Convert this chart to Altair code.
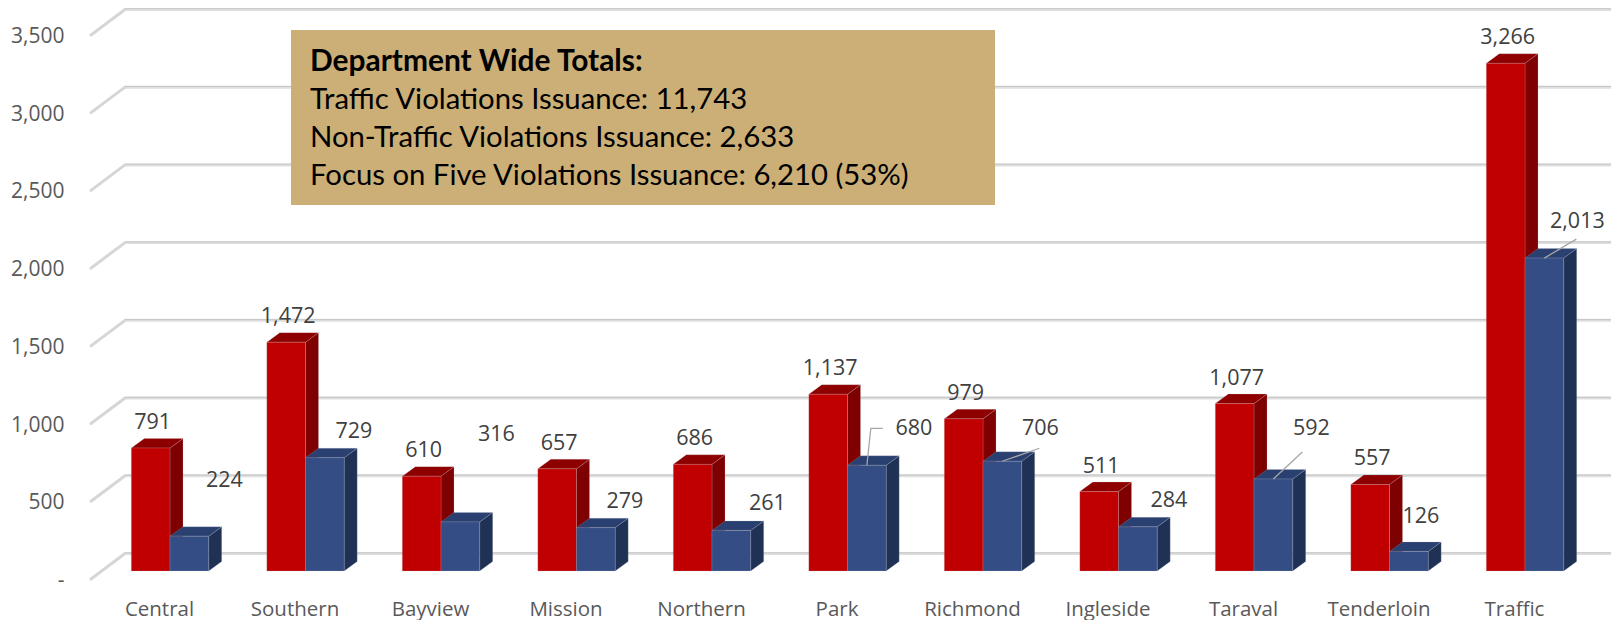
import altair as alt
import pandas as pd

categories = ["Central", "Southern", "Bayview", "Mission", "Northern", "Park",
              "Richmond", "Ingleside", "Taraval", "Tenderloin", "Traffic"]
traffic = [791, 1472, 610, 657, 686, 1137, 979, 511, 1077, 557, 3266]
focus = [224, 729, 316, 279, 261, 680, 706, 284, 592, 126, 2013]
ticks = [0, 500, 1000, 1500, 2000, 2500, 3000, 3500]
box_lines = ["Department Wide Totals:", "Traffic Violations Issuance: 11,743",
             "Non-Traffic Violations Issuance: 2,633",
             "Focus on Five Violations Issuance: 6,210 (53%)"]

# label nudges from the top-front centre of each blue bar, in pixels
focus_dx = [35, 29, 36, 29, 36, 47, 38, 31, 38, 12, 33]
focus_dy = [55, 26, 87, 26, 26, 36, 32, 26, 50, 34, 36]
# leader lines: category, start/mid/end nudges in px from the bar's top-front centre
leaders = {5: [(0, 0), (4, 37), (16, 37)], 6: [(0, 0), (37, 13)],
           8: [(0, 0), (29, 27)], 10: [(0, 0), (32, 19)]}

PX_X = 135.5      # px per category
PX_Y = 0.15545    # px per unit
X0 = 170.0        # page x of first category's red/blue boundary
Y0 = 553.5        # page y of value 0 on the back wall
BAR = 38.7 / PX_X
DX = 13 / PX_X
DY = 9.5 / PX_Y
BASE = (Y0 - 571) / PX_Y
WALL_DX = 34 / PX_X
WALL_DY = 25.5 / PX_Y

LEFT, TOP = 64, 8
W, H = 1547, 592
dom_x = [(LEFT - X0) / PX_X, (LEFT + W - X0) / PX_X]
dom_y = [(Y0 - TOP - H) / PX_Y, (Y0 - TOP) / PX_Y]
FONT = "Open Sans"
names = "[" + ",".join(f"'{c}'" for c in categories) + "]"

X = alt.X("x:Q", title=None, scale=alt.Scale(domain=dom_x, nice=False, zero=False), axis=alt.Axis(
    values=list(range(len(categories))), labelExpr=f"{names}[datum.value]",
    domain=False, ticks=False, grid=False, labelFont=FONT, labelFontSize=20.5,
    labelColor="#595959", labelOffset=-11, labelPadding=15, labelAngle=0,
    labelOverlap=False, labelBaseline="alphabetic", labelBound=False, labelFlush=False))
Y = alt.Y("y:Q", title=None, scale=alt.Scale(domain=dom_y, nice=False, zero=False), axis=alt.Axis(
    values=ticks, labelExpr="datum.value === 0 ? '-' : format(datum.value, ',')",
    domain=False, ticks=False, grid=False, labelFont=FONT, labelFontSize=21,
    labelColor="#595959", labelOffset=27, labelPadding=0, labelOverlap=False,
    labelBound=False, labelFlush=False))


def faces(values, start):
    front, side, top = [], [], []
    for i, v in enumerate(values):
        l = i + start * BAR
        r = l + BAR
        t = BASE + v
        front.append(dict(x=l, x2=r, y=BASE, y2=t))
        side += [dict(id=i, x=r, y=BASE, y2=t), dict(id=i, x=r + DX, y=BASE + DY, y2=t + DY)]
        top += [dict(id=i, y=t, x=l, x2=r), dict(id=i, y=t + DY, x=l + DX, x2=r + DX)]
    return pd.DataFrame(front), pd.DataFrame(side), pd.DataFrame(top)


def bar_layers(values, start, c_front, c_side, c_top):
    front, side, top = faces(values, start)
    edge = dict(stroke="#c4c5cf", strokeWidth=0.5, strokeOpacity=0.4)
    return [
        alt.Chart(side).mark_area(color=c_side, **edge).encode(X, Y, y2="y2:Q", detail="id:N"),
        alt.Chart(top).mark_area(color=c_top, orient="horizontal", **edge).encode(
            X, Y, x2="x2:Q", detail="id:N"),
        alt.Chart(front).mark_rect(color=c_front, **edge).encode(X, Y, x2="x2:Q", y2="y2:Q"),
    ]


# gridlines with their wall diagonal
x_front = (91 - X0) / PX_X
x_back = x_front + WALL_DX
grid = pd.DataFrame({"y": ticks})
grid["x"] = x_back
grid["x2"] = dom_x[1]
diag = pd.DataFrame([dict(t=t, x=x_front, y=t - WALL_DY) for t in ticks] +
                    [dict(t=t, x=x_back, y=t) for t in ticks])
grid_layers = [
    alt.Chart(diag).mark_line(color="#d6d6d6", strokeWidth=3, strokeCap="round").encode(X, Y, detail="t:N"),
    alt.Chart(grid).mark_rule(color="#dfdfdf", strokeWidth=3).encode(X, Y, x2="x2:Q"),
    alt.Chart(grid).mark_rule(color="#c6c6c6", strokeWidth=1, yOffset=-0.7).encode(X, Y, x2="x2:Q"),
]

# value labels
lab_t = pd.DataFrame({"x": [i - BAR / 2 + 2 / PX_X for i in range(len(traffic))],
                      "y": [BASE + v + 25 / PX_Y for v in traffic],
                      "t": [f"{v:,}" for v in traffic]})
lab_f = pd.DataFrame({"x": [i + BAR / 2 + d / PX_X for i, d in enumerate(focus_dx)],
                      "y": [BASE + v + d / PX_Y for v, d in zip(focus, focus_dy)],
                      "t": [f"{v:,}" for v in focus]})
labels = alt.Chart(pd.concat([lab_t, lab_f])).mark_text(
    font=FONT, fontSize=21.5, color="#404040", baseline="middle", align="center"
).encode(X, Y, text="t:N")

rows = []
for i, pts in leaders.items():
    for k, (dx, dy) in enumerate(pts):
        rows.append(dict(id=i, k=k, x=i + BAR / 2 + dx / PX_X, y=BASE + focus[i] + dy / PX_Y))
leader = alt.Chart(pd.DataFrame(rows)).mark_line(color="#a6a6a6", strokeWidth=1.3).encode(
    X, Y, detail="id:N", order="k:Q")

# annotation box
box = alt.Chart(pd.DataFrame({"a": [0]})).mark_rect(color="#CBAF77").encode(
    x=alt.value(291 - LEFT), x2=alt.value(995 - LEFT), y=alt.value(30 - TOP), y2=alt.value(205 - TOP))
box_text = []
for k, line in enumerate(box_lines):
    box_text.append(alt.Chart(pd.DataFrame({"t": [line]})).mark_text(
        font="Lato", fontSize=29.9 if k == 0 else 29.3, color="#000000", align="left", baseline="alphabetic",
        fontWeight="bold" if k == 0 else "normal"
    ).encode(x=alt.value(310 - LEFT), y=alt.value(71 - TOP + 38 * k), text="t:N"))

chart = alt.layer(
    *grid_layers,
    *bar_layers(traffic, -1, "#C00000", "#7F0000", "#8E0000"),
    *bar_layers(focus, 0, "#344E85", "#1F3154", "#2A4070"),
    leader, labels, box, *box_text,
).properties(
    width=W, height=H,
    autosize=alt.AutoSizeParams(type="none"),
    padding={"left": LEFT - 8, "top": 0, "right": 0, "bottom": 20},
).configure_view(stroke=None)

chart.save("out.html", embed_options={"renderer": "svg", "actions": False})
